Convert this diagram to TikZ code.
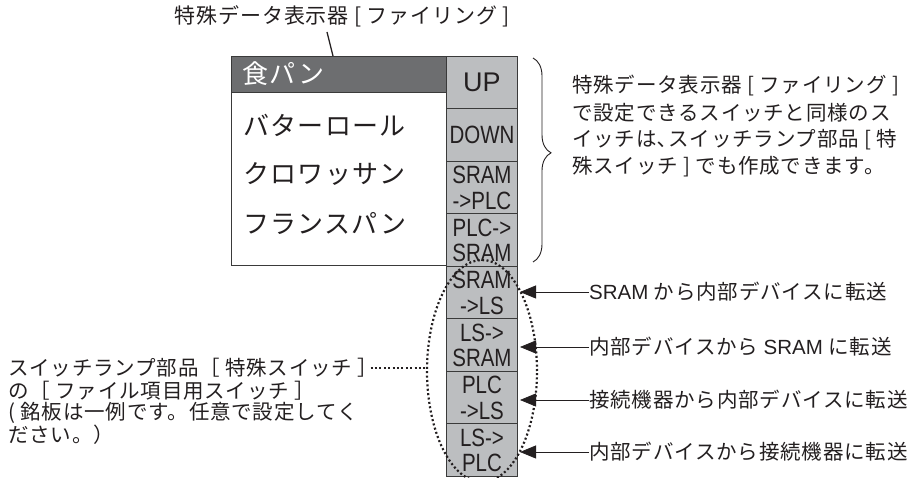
\documentclass[tikz,border=0pt]{standalone}
\usepackage{fontspec}
\setmainfont{Noto Sans CJK JP}
\newfontfamily\itemfont[LetterSpace=5]{Noto Sans CJK JP}
\newfontfamily\lblfont[LetterSpace=4]{Noto Sans CJK JP}
\newfontfamily\condfont[FakeStretch=0.82]{Liberation Sans}
\newfontfamily\swfont{Liberation Sans}
\usetikzlibrary{shapes.geometric,decorations.pathreplacing,arrows.meta}
\definecolor{hdrgray}{HTML}{6D6E70}
\definecolor{colgray}{HTML}{BCBEC0}
\definecolor{linegray}{HTML}{3A3A3A}
\definecolor{ink}{HTML}{231F20}
\tikzset{
  swbox/.style={draw=linegray, line width=0.9pt, fill=colgray, minimum width=71pt, minimum height=52.5pt, inner sep=0pt, anchor=north west, text=ink, align=center},
  swtext/.style={font=\condfont\fontsize{25}{25.5}\selectfont},
  itemtxt/.style={anchor=west, inner sep=0pt, text=ink, font=\itemfont\fontsize{26}{28}\selectfont},
  lbl/.style={anchor=west, inner sep=0pt, text=ink, font=\lblfont\fontsize{20.5}{24}\selectfont},
  lbls/.style={anchor=west, inner sep=0pt, text=ink, font=\lblfont\fontsize{20.5}{22}\selectfont},
  dotline/.style={line width=2.2pt, dash pattern=on 2pt off 2.4pt, draw=ink},
  arr/.style={draw=ink, line width=0.8pt, -{Triangle[length=16pt,width=13pt]}}
}
\begin{document}
\begin{tikzpicture}[x=1pt,y=-1pt]
\useasboundingbox (0,0) rectangle (914,478);
% top label and leader
\node[anchor=east, inner sep=0pt, text=ink, font=\lblfont\fontsize{21}{24}\selectfont] (toplbl) at (510,16) {特殊データ表示器 [ ファイリング ]};
\coordinate (ldA) at (327,32);
\coordinate (ldB) at (333,56);
\draw[ink, line width=1.3pt] (ldA) -- (ldB);
% main box
\node[fill=white, draw=linegray, line width=1.1pt, minimum width=215pt, minimum height=209pt, inner sep=0pt, anchor=north west] (mainbox) at (231,56) {};
\node[fill=hdrgray, draw=linegray, line width=1.1pt, minimum width=215pt, minimum height=36pt, inner sep=0pt, anchor=north west] (hdr) at (231,56) {};
\node[itemtxt, text=white] (hdrtxt) at (242,74) {食パン};
\node[itemtxt] (it1) at (243,125) {バターロール};
\node[itemtxt] (it2) at (243,174) {クロワッサン};
\node[itemtxt] (it3) at (243,224) {フランスパン};
% switch column
\node[swbox, font=\swfont\fontsize{27}{27}\selectfont] (sw1) at (446,56) {UP};
\node[swbox, swtext] (sw2) at (446,108.5) {\raisebox{-3pt}{DOWN}};
\node[swbox, swtext] (sw3) at (446,161) {SRAM\\->PLC};
\node[swbox, swtext] (sw4) at (446,213.5) {PLC->\\SRAM};
\node[swbox, swtext] (sw5) at (446,266) {SRAM\\->LS};
\node[swbox, swtext] (sw6) at (446,318.5) {LS->\\SRAM};
\node[swbox, swtext] (sw7) at (446,371) {PLC\\->LS};
\node[swbox, swtext] (sw8) at (446,423.5) {LS->\\PLC};
% brace and right text
\coordinate (brA) at (533,58);
\coordinate (brB) at (533,262);
\draw[ink, line width=0.9pt, decorate, decoration={brace, amplitude=18pt, aspect=0.465}] (brA) -- (brB);
\node[lbl] (rt1) at (572,86) {特殊データ表示器 [ ファイリング ]};
\node[lbl] (rt2) at (572,113) {で設定できるスイッチと同様のス};
\node[lbl] (rt3) at (572,140) {イッチは､スイッチランプ部品 [ 特};
\node[lbl] (rt4) at (572,167) {殊スイッチ ] でも作成できます。};
% ellipse
\node[ellipse, dotline, minimum width=110pt, minimum height=222pt, inner sep=0pt] (ell) at (482,371) {};
% transfer labels
\node[lbl] (tl1) at (589,292) {{\swfont SRAM} から内部デバイスに転送};
\node[lbl] (tl2) at (589,347) {内部デバイスから {\swfont SRAM} に転送};
\node[lbl] (tl3) at (589,400) {接続機器から内部デバイスに転送};
\node[lbl] (tl4) at (589,452) {内部デバイスから接続機器に転送};
\coordinate (tp1) at (520,292);
\coordinate (tp2) at (520,347);
\coordinate (tp3) at (520,400);
\coordinate (tp4) at (520,452);
\draw[arr] (tl1.west) -- (tp1);
\draw[arr] (tl2.west) -- (tp2);
\draw[arr] (tl3.west) -- (tp3);
\draw[arr] (tl4.west) -- (tp4);
% left text
\node[lbls] (lt1) at (8,368) {スイッチランプ部品［ 特殊スイッチ ］};
\node[lbls] (lt2) at (8,391) {の［ ファイル項目用スイッチ ］};
\node[lbls] (lt3) at (8,413) {( 銘板は一例です。任意で設定してく};
\node[lbls] (lt4) at (8,435) {ださい。）};
\draw[dotline, line width=1.7pt] ([xshift=-8pt]lt1.east) -- (lt1.east -| ell.west);
\end{tikzpicture}
\end{document}
